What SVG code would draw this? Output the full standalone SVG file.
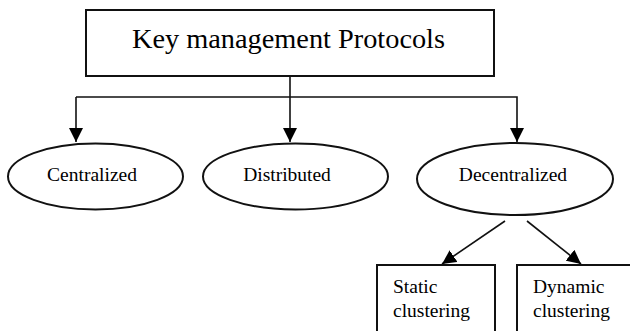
<svg xmlns="http://www.w3.org/2000/svg" width="630" height="331" viewBox="0 0 630 331">
  <defs>
    <marker id="arr" viewBox="0 0 14 14" refX="14" refY="7" markerWidth="14" markerHeight="14" markerUnits="userSpaceOnUse" orient="auto">
      <path d="M0,0 L14,7 L0,14 Z" fill="#000"/>
    </marker>
    <style>
      .shape { fill: #fff; stroke: #111; stroke-width: 2; }
      .conn { fill: none; stroke: #111; stroke-width: 1.6; }
      .lbl { font-family: "Liberation Serif", "Times New Roman", serif; fill: #000; }
      .title { font-size: 28px; }
      .small { font-size: 19.5px; }
    </style>
  </defs>
  <rect width="630" height="331" fill="#fff"/>

  <g id="connectors">
    <line class="conn" x1="290" y1="76" x2="290" y2="142" marker-end="url(#arr)"/>
    <polyline class="conn" points="76,97 517,97 517,142" marker-end="url(#arr)"/>
    <line class="conn" x1="76" y1="97" x2="76" y2="142" marker-end="url(#arr)"/>
    <line class="conn" x1="505" y1="221" x2="442" y2="264" marker-end="url(#arr)"/>
    <line class="conn" x1="527" y1="221" x2="581" y2="264" marker-end="url(#arr)"/>
  </g>

  <g id="root">
    <rect class="shape" x="86" y="10" width="408" height="66"/>
    <text class="lbl title" x="132" y="48" textLength="313" lengthAdjust="spacingAndGlyphs">Key management Protocols</text>
  </g>

  <g id="centralized">
    <ellipse class="shape" cx="95.5" cy="176.5" rx="87.5" ry="33"/>
    <text class="lbl small" x="92" y="181" text-anchor="middle">Centralized</text>
  </g>

  <g id="distributed">
    <ellipse class="shape" cx="295.5" cy="176.5" rx="92.5" ry="33"/>
    <text class="lbl small" x="287" y="181" text-anchor="middle">Distributed</text>
  </g>

  <g id="decentralized">
    <ellipse class="shape" cx="515" cy="179" rx="98" ry="36"/>
    <text class="lbl small" x="513" y="181" text-anchor="middle">Decentralized</text>
  </g>

  <g id="static">
    <rect class="shape" x="377" y="265" width="118" height="80"/>
    <text class="lbl small" x="393" y="293">Static</text>
    <text class="lbl small" x="393" y="317">clustering</text>
  </g>

  <g id="dynamic">
    <rect class="shape" x="517" y="265" width="125" height="80"/>
    <text class="lbl small" x="533" y="293">Dynamic</text>
    <text class="lbl small" x="533" y="317">clustering</text>
  </g>
</svg>
